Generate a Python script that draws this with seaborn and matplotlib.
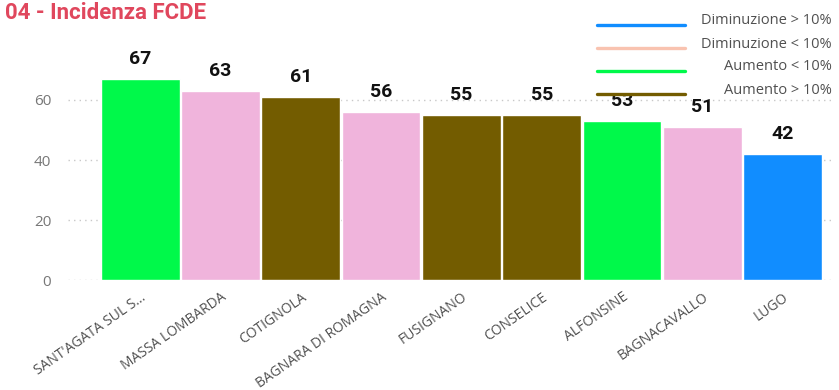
import matplotlib
matplotlib.use("Agg")
import matplotlib.pyplot as plt
from matplotlib.lines import Line2D
import seaborn as sns
import pandas as pd

# dati
comuni = ["SANT'AGATA SUL S...", "MASSA LOMBARDA", "COTIGNOLA", "BAGNARA DI ROMAGNA",
          "FUSIGNANO", "CONSELICE", "ALFONSINE", "BAGNACAVALLO", "LUGO"]
valori = [67, 63, 61, 56, 55, 55, 53, 51, 42]
variazione = ["Aumento < 10%", "Diminuzione < 10%", "Aumento > 10%", "Diminuzione < 10%",
              "Aumento > 10%", "Aumento > 10%", "Aumento < 10%", "Diminuzione < 10%",
              "Diminuzione > 10%"]
y_ticks = [0, 20, 40, 60]

legenda = ["Diminuzione > 10%", "Diminuzione < 10%", "Aumento < 10%", "Aumento > 10%"]
colori_barre = {"Diminuzione > 10%": "#118DFF", "Diminuzione < 10%": "#F0B4DC",
                "Aumento < 10%": "#00F94A", "Aumento > 10%": "#735C00"}
colori_legenda = {"Diminuzione > 10%": "#118DFF", "Diminuzione < 10%": "#F9C3B0",
                  "Aumento < 10%": "#00F94A", "Aumento > 10%": "#735C00"}

df = pd.DataFrame({"comune": comuni, "valore": valori, "var": variazione})

sns.set_style("white")
plt.rcParams['font.family'] = ['Open Sans', 'DejaVu Sans']

fig = plt.figure(figsize=(8.39, 3.9), dpi=100)
ax = fig.add_axes([0.081, 0.282, 0.914, 0.577])

sns.barplot(data=df, x="comune", y="valore", hue="var", palette=colori_barre,
            dodge=False, width=0.98, saturation=1, legend=False, ax=ax, zorder=2)

for i, v in enumerate(valori):
    ax.text(i, v + 3.8, str(v), ha="center", va="bottom", fontsize=14,
            fontweight="bold", color="#111111", clip_on=False, zorder=5,
            family=["Roboto", "DejaVu Sans"])

ax.set_xlim(-0.9, 8.65)
ax.set_ylim(0, 75)
ax.set_yticks(y_ticks)
ax.set_yticklabels([str(t) for t in y_ticks], color="#777777", fontsize=11)
ax.set_xticks(range(len(comuni)))
ax.set_xticklabels(comuni, rotation=35, ha="right", rotation_mode="anchor",
                   fontsize=10, color="#505050")
ax.tick_params(axis="y", length=0, pad=12)
ax.tick_params(axis="x", length=0, pad=7)
ax.set_xlabel("")
ax.set_ylabel("")
ax.grid(axis="y", linestyle=(0, (1, 3)), color="#C8C8C8", linewidth=1, zorder=0)
ax.set_axisbelow(True)
for s in ax.spines.values():
    s.set_visible(False)

# legenda manuale
for k, nome in enumerate(legenda):
    yf = 1 - (25 + 23 * k) / 390
    fig.add_artist(Line2D([597 / 839, 685 / 839], [yf, yf], color=colori_legenda[nome],
                          linewidth=2.4, zorder=6))
    fig.text(832 / 839, yf + 4 / 390, nome, ha="right", va="center", fontsize=10.5,
             color="#505050", zorder=7)

fig.text(5 / 839, 1 - 13 / 390, "04 - Incidenza FCDE", ha="left", va="center",
         fontsize=16, fontweight="bold", color="#E0475D", family=["Roboto", "DejaVu Sans"])

fig.savefig("out.png", dpi=100)
